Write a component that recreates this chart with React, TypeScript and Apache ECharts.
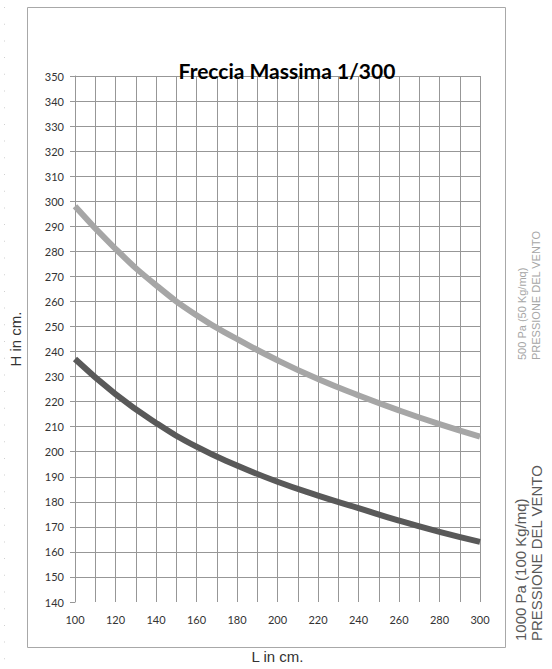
import React, { useEffect, useRef } from "react";
import * as echarts from "echarts";

const titleText = "Freccia Massima 1/300";
const xName = "L in cm.";
const yName = "H in cm.";
const lengths = [100, 120, 140, 160, 180, 200, 220, 240, 260, 280, 300];
const h500 = [298, 281, 266.5, 254.5, 245, 236.5, 229, 222.5, 216.5, 211, 206];
const h1000 = [237, 223, 211.5, 202, 194.5, 188, 182.5, 177.5, 172.5, 168, 164];
const label500 = ["500 Pa (50 Kg/mq)", "PRESSIONE DEL VENTO"];
const label1000 = ["1000 Pa (100 Kg/mq)", "PRESSIONE DEL VENTO"];
const xMin = 100, xMax = 300, xStep = 20;
const yMin = 140, yMax = 350, yStep = 10;

export default function App() {
  const ref = useRef<HTMLDivElement>(null);
  useEffect(() => {
    if (!ref.current) return;
    const chart = echarts.init(ref.current, undefined, { renderer: "svg" });
    const gridColor = "#979797";
    const dots: any[] = [];
    for (let i = 0; i < 40; i++) {
      dots.push({
        type: "rect",
        shape: { x: 4, y: 7 + i * 16.7, width: 1, height: 1 },
        style: { fill: "#d0d0d0" },
        silent: true,
      });
    }
    chart.setOption({
      animation: false,
      backgroundColor: "#ffffff",
      title: {
        text: titleText,
        left: 282,
        top: 55,
        textAlign: "center",
        textStyle: { fontFamily: "Lato", fontWeight: "bold", fontSize: 21, color: "#000" },
      },
      grid: { left: 74, right: 72, top: 76, bottom: 66 },
      xAxis: {
        type: "value",
        min: xMin,
        max: xMax,
        interval: xStep,
        name: xName,
        nameLocation: "middle",
        nameGap: 47,
        nameTextStyle: { fontFamily: "Liberation Sans", fontSize: 15, color: "#333" },
        axisLine: { show: false },
        axisTick: { show: false },
        minorTick: { show: false, splitNumber: 2 },
        axisLabel: { fontFamily: "Lato", fontSize: 11, color: "#333", margin: 12 },
        splitLine: { show: true, lineStyle: { color: gridColor, width: 1 } },
        minorSplitLine: { show: true, lineStyle: { color: gridColor, width: 1 } },
      },
      yAxis: {
        type: "value",
        min: yMin,
        max: yMax,
        interval: yStep,
        name: yName,
        nameLocation: "middle",
        nameRotate: 90,
        nameGap: 52,
        nameTextStyle: { fontFamily: "Liberation Sans", fontSize: 15, color: "#333" },
        axisLine: { show: true, lineStyle: { color: gridColor, width: 1 } },
        axisTick: { show: true, length: 5, lineStyle: { color: gridColor } },
        axisLabel: { fontFamily: "Lato", fontSize: 11, color: "#333", margin: 11 },
        splitLine: { show: true, showMinLine: false, lineStyle: { color: gridColor, width: 1 } },
      },
      series: [
        {
          type: "line",
          name: label500.join(" "),
          data: lengths.map((l, i) => [l, h500[i]]),
          smooth: true,
          symbol: "none",
          lineStyle: { color: "#a6a6a6", width: 6 },
        },
        {
          type: "line",
          name: label1000.join(" "),
          data: lengths.map((l, i) => [l, h1000[i]]),
          smooth: true,
          symbol: "none",
          lineStyle: { color: "#595959", width: 6 },
        },
      ],
      graphic: [
        {
          type: "rect",
          shape: { x: 27.5, y: 7.5, width: 478, height: 640 },
          style: { fill: "none", stroke: "#a8a8a8", lineWidth: 1 },
          silent: true,
        },
        ...dots,
        {
          type: "text",
          x: 522,
          y: 360,
          rotation: Math.PI / 2,
          style: { text: label500[0], fill: "#a6a6a6", font: "11px 'Liberation Sans'", textAlign: "left", textVerticalAlign: "middle" },
        },
        {
          type: "text",
          x: 536,
          y: 360,
          rotation: Math.PI / 2,
          style: { text: label500[1], fill: "#a6a6a6", font: "11px 'Liberation Sans'", textAlign: "left", textVerticalAlign: "middle" },
        },
        {
          type: "text",
          x: 520,
          y: 641,
          rotation: Math.PI / 2,
          style: { text: label1000[0], fill: "#595959", font: "15px 'Liberation Sans'", textAlign: "left", textVerticalAlign: "middle" },
        },
        {
          type: "text",
          x: 536,
          y: 641,
          rotation: Math.PI / 2,
          style: { text: label1000[1], fill: "#595959", font: "15px 'Liberation Sans'", textAlign: "left", textVerticalAlign: "middle" },
        },
      ],
    });
    return () => chart.dispose();
  }, []);
  return (
    <div
      ref={ref}
      style={{ position: "absolute", left: 0, top: 0, width: 552, height: 669 }}
    />
  );
}
